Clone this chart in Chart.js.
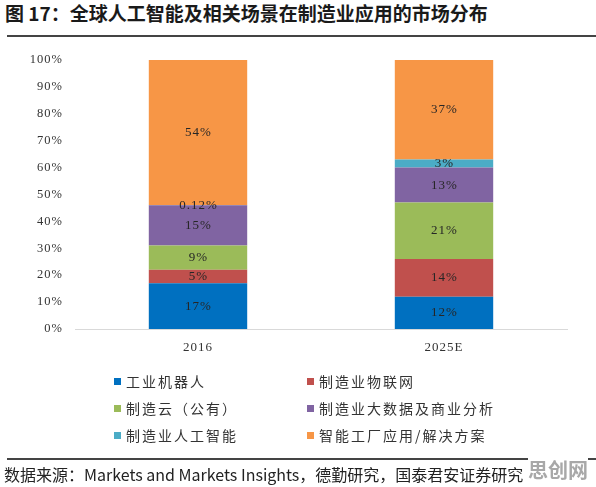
<!DOCTYPE html>
<html lang="zh-CN">
<head>
<meta charset="utf-8">
<script src="https://cdn.jsdelivr.net/npm/chart.js@4/dist/chart.umd.min.js"></script>
<style>
    html, body { margin: 0; padding: 0; background: #fff; }
    #wrap { position: relative; width: 596px; height: 487px; overflow: hidden; }
    #marketChart { position: absolute; left: 0; top: 0; }
    .title {
        position: absolute; left: 5px; top: -1px;
        font: bold 19px "Noto Sans CJK SC", sans-serif; color: #1a1a1a; white-space: nowrap;
    }
    .rule { position: absolute; left: 7px; right: 0; height: 2px; background: #444; }
    .legend { position: absolute; left: 114px; top: 371px; width: 420px; }
    .legend-item {
        position: absolute; white-space: nowrap; line-height: 20px;
        font: 14px "Noto Sans CJK SC", sans-serif; letter-spacing: 2px; color: #333;
    }
    .legend-item i { display: inline-block; width: 7px; height: 7px; margin-right: 5px; vertical-align: 2px; }
    .source {
        position: absolute; left: 4px; top: 462px;
        font: 16px "Noto Sans CJK SC", sans-serif; color: #222; white-space: nowrap;
    }
    .mark {
        position: absolute; left: 528px; top: 455px;
        font: bold 20px "Noto Sans CJK SC", sans-serif; color: #a8a8a8; background: #fff;
    }
</style>
</head>
<body>
<div id="wrap">
    <div class="title">图 17：全球人工智能及相关场景在制造业应用的市场分布</div>
    <div class="rule" style="top:35px"></div>
    <canvas id="marketChart" width="596" height="487"></canvas>
    <div class="legend" id="legend"></div>
    <div class="rule" style="top:458px"></div>
    <div class="source">数据来源：Markets and Markets Insights，德勤研究，国泰君安证券研究</div>
    <div class="mark">思创网</div>
</div>
<script>
const years = ['2016', '2025E'];
const seriesNames = ['工业机器人', '制造业物联网', '制造云（公有）', '制造业大数据及商业分析', '制造业人工智能', '智能工厂应用/解决方案'];
const seriesColors = ['#0070C0', '#C0504D', '#9BBB59', '#8064A2', '#4BACC6', '#F79646'];
const robots = [17, 12];
const iot = [5, 14];
const cloud = [9, 21];
const bigData = [15, 13];
const ai = [0.12, 3];
const smartFactory = [54, 37];
const yTicks = [0, 10, 20, 30, 40, 50, 60, 70, 80, 90, 100];

const seriesValues = [robots, iot, cloud, bigData, ai, smartFactory];

// 原图数字字距较宽
const spacedText = {
    id: 'spacedText',
    beforeDraw(chart) {
        chart.ctx.letterSpacing = '1px';
    }
};

const segmentLabels = {
    id: 'segmentLabels',
    afterDatasetsDraw(chart) {
        const { ctx } = chart;
        ctx.save();
        ctx.letterSpacing = '1px';
        ctx.font = '13px "Liberation Serif", serif';
        ctx.fillStyle = '#262626';
        ctx.textAlign = 'center';
        ctx.textBaseline = 'middle';
        chart.data.datasets.forEach((ds, i) => {
            chart.getDatasetMeta(i).data.forEach((bar, j) => {
                const v = ds.data[j];
                const props = bar.getProps(['x', 'y', 'base'], true);
                ctx.fillText(`${v}%`, props.x + 0.5, (props.y + props.base) / 2);
            });
        });
        ctx.restore();
    }
};

new Chart(document.getElementById('marketChart'), {
    type: 'bar',
    data: {
        labels: years,
        datasets: seriesNames.map((name, i) => ({
            label: name,
            data: seriesValues[i],
            backgroundColor: seriesColors[i],
            borderWidth: 0,
            categoryPercentage: 1,
            barPercentage: 0.4
        }))
    },
    options: {
        responsive: false,
        animation: false,
        layout: { padding: { top: 60, right: 29, bottom: 128, left: 0 } },
        scales: {
            x: {
                stacked: true,
                grid: { display: false, drawTicks: false },
                border: { display: true, color: '#d9d9d9', width: 1 },
                ticks: { padding: 11, color: '#333', font: { family: '"Liberation Serif", serif', size: 13 } },
                afterFit: (scale) => { scale.height = 30; }
            },
            y: {
                stacked: true,
                min: 0,
                max: 100,
                afterBuildTicks: (scale) => { scale.ticks = yTicks.map(v => ({ value: v })); },
                grid: { display: false, drawTicks: false },
                border: { display: false },
                ticks: {
                    padding: 12,
                    color: '#333',
                    font: { family: '"Liberation Serif", serif', size: 12.5 },
                    callback: (value) => `${value}%`
                },
                afterFit: (scale) => { scale.width = 75; }
            }
        },
        plugins: {
            legend: { display: false },
            tooltip: { enabled: false }
        }
    },
    plugins: [spacedText, segmentLabels]
});

// 两列图例
const legendBox = document.getElementById('legend');
seriesNames.forEach((name, i) => {
    const item = document.createElement('div');
    item.className = 'legend-item';
    item.style.left = (i % 2 === 0 ? 0 : 193) + 'px';
    item.style.top = (Math.floor(i / 2) * 27) + 'px';
    item.innerHTML = `<i style="background:${seriesColors[i]}"></i>${name}`;
    legendBox.appendChild(item);
});
</script>
</body>
</html>
